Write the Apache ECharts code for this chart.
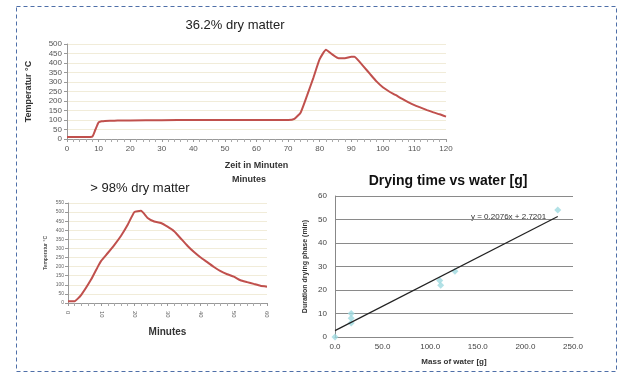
<!DOCTYPE html>
<html><head><meta charset="utf-8">
<script src="https://cdn.jsdelivr.net/npm/echarts@6/dist/echarts.min.js"></script>
<style>html,body{margin:0;padding:0;background:#fff}#c{width:624px;height:374px}</style>
</head><body><div id="c"></div>
<script>
// Chart 1: 36.2% dry matter
const t1Minutes = [0,2,4,6,8,9,10,11,12,14,16,20,30,40,50,60,70,72,74,76,78,80,82,84,86,88,90,91,92,94,96,98,100,102,104,106,108,110,112,114,116,118,120];
const t1Temp    = [10,10,10,10,12,50,88,93,95,96,97,98,99,100,100,100,100,106,140,228,322,420,470,445,425,425,433,433,418,380,341,303,272,250,232,212,194,178,165,152,140,130,118];
const t1YTicks = [0,50,100,150,200,250,300,350,400,450,500];
// Chart 2: > 98% dry matter
const t2Minutes = [0,2,4,7,9,10,12,14,16,18,20,22,24,26,28,30,32,34,36,38,40,42,44,46,48,50,52,54,56,58,60];
const t2Temp    = [10,10,45,130,200,232,275,320,370,430,500,507,468,448,440,420,395,355,315,280,250,225,198,175,158,145,125,115,105,95,90];
// Chart 3: Drying time vs water
const massWater = [0,17,17,17,110,111,126,234];
const dryDuration = [0,10,8,6,24,22,28,54];
const trendSlope = 0.2076, trendIntercept = 2.7201;
const trendX = [0,234];

const red = '#C0504D';
const font = 'Liberation Sans';
const chart = echarts.init(document.getElementById('c'));
chart.setOption({
  animation:false,
  textStyle:{fontFamily:font},
  title:[
    {text:'36.2% dry matter',left:230,top:14,textAlign:'center',textStyle:{fontSize:13,fontWeight:'normal',color:'#222',fontFamily:font}},
    {text:'> 98% dry matter',left:135,top:177,textAlign:'center',textStyle:{fontSize:13,fontWeight:'normal',color:'#222',fontFamily:font}},
    {text:'Drying time vs water [g]',left:443,top:169,textAlign:'center',textStyle:{fontSize:14,fontWeight:'bold',color:'#111',fontFamily:font}}
  ],
  grid:[
    {left:67,top:44,width:379,height:95},
    {left:68,top:203,width:199,height:100},
    {left:335,top:196,width:238,height:141}
  ],
  xAxis:[
    {gridIndex:0,type:'value',min:0,max:120,interval:10,
     name:'Zeit in Minuten',nameLocation:'middle',nameGap:22,
     nameTextStyle:{fontSize:9,fontWeight:'bold',color:'#333'},
     axisLine:{lineStyle:{color:'#999'}},axisTick:{length:3,lineStyle:{color:'#999'}},
     minorTick:{show:true,splitNumber:5,length:3,lineStyle:{color:'#aaa'}},
     axisLabel:{fontSize:8,color:'#555',margin:6},splitLine:{show:false}},
    {gridIndex:1,type:'value',min:0,max:60,interval:10,
     name:'Minutes',nameLocation:'middle',nameGap:24,
     nameTextStyle:{fontSize:10,fontWeight:'bold',color:'#333'},
     axisLine:{lineStyle:{color:'#999'}},axisTick:{length:3,lineStyle:{color:'#999'}},
     minorTick:{show:true,splitNumber:5,length:3,lineStyle:{color:'#aaa'}},
     axisLabel:{fontSize:6,color:'#666',margin:8,rotate:-90},splitLine:{show:false}},
    {gridIndex:2,type:'value',min:0,max:250,interval:50,
     name:'Mass of water [g]',nameLocation:'middle',nameGap:21,
     nameTextStyle:{fontSize:8,fontWeight:'bold',color:'#333'},
     axisLine:{lineStyle:{color:'#888'}},axisTick:{show:false},
     axisLabel:{fontSize:8,color:'#444',margin:6,formatter:v=>v.toFixed(1)},splitLine:{show:false}}
  ],
  yAxis:[
    {gridIndex:0,type:'value',min:0,max:500,interval:50,
     name:'Temperatur °C',nameLocation:'middle',nameGap:34,
     nameTextStyle:{fontSize:9,fontWeight:'bold',color:'#333'},
     axisLine:{show:true,lineStyle:{color:'#999'}},axisTick:{show:true,length:3,lineStyle:{color:'#999'}},
     axisLabel:{fontSize:8,color:'#555',margin:5,lineHeight:8},
     splitLine:{lineStyle:{color:'#f1ecd9'}}},
    {gridIndex:1,type:'value',min:0,max:550,interval:50,
     name:'Temperatur °C',nameLocation:'middle',nameGap:20,
     nameTextStyle:{fontSize:5,fontWeight:'bold',color:'#555'},
     axisLine:{show:true,lineStyle:{color:'#999'}},axisTick:{show:true,length:3,lineStyle:{color:'#999'}},
     axisLabel:{fontSize:5,color:'#666',margin:4,lineHeight:5},
     splitLine:{lineStyle:{color:'#f1ecd9'}}},
    {gridIndex:2,type:'value',min:0,max:60,interval:10,
     name:'Duration drying phase (min)',nameLocation:'middle',nameGap:26,
     nameTextStyle:{fontSize:7,fontWeight:'bold',color:'#333'},
     axisLine:{show:true,lineStyle:{color:'#888'}},axisTick:{show:false},
     axisLabel:{fontSize:8,color:'#444',margin:8},
     splitLine:{lineStyle:{color:'#8a8a8a'}}}
  ],
  series:[
    {type:'line',xAxisIndex:0,yAxisIndex:0,symbol:'none',smooth:0.15,
     lineStyle:{color:red,width:2},data:t1Minutes.map((m,i)=>[m,t1Temp[i]])},
    {type:'line',xAxisIndex:1,yAxisIndex:1,symbol:'none',smooth:0.15,
     lineStyle:{color:red,width:2},data:t2Minutes.map((m,i)=>[m,t2Temp[i]])},
    {type:'line',xAxisIndex:2,yAxisIndex:2,symbol:'none',
     lineStyle:{color:'#222',width:1.2},
     data:trendX.map(x=>[x,trendSlope*x+trendIntercept])},
    {type:'scatter',xAxisIndex:2,yAxisIndex:2,symbol:'diamond',symbolSize:7,
     itemStyle:{color:'#9fd9e0'},data:massWater.map((m,i)=>[m,dryDuration[i]])}
  ],
  graphic:[
    {type:'rect',shape:{x:16.5,y:6.5,width:600,height:365},
     style:{fill:null,stroke:'#4f6fa8',lineWidth:1,lineDash:[4,3]},silent:true},
    {type:'text',left:232,top:175,style:{text:'Minutes',fontSize:9,fontWeight:'bold',fill:'#333',fontFamily:font}},
    {type:'text',left:471,top:213,style:{text:'y = 0.2076x + 2.7201',fontSize:8,fill:'#333',fontFamily:font}}
  ]
});
</script></body></html>
